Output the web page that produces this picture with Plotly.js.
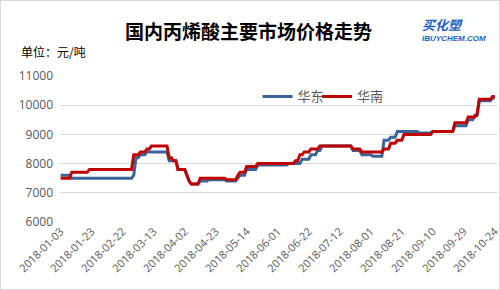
<!DOCTYPE html>
<html>
<head>
<meta charset="utf-8">
<script src="https://cdn.plot.ly/plotly-3.0.1.min.js"></script>
<style>
html,body{margin:0;padding:0;background:#fff;}
#wrap{position:relative;width:500px;height:290px;box-sizing:border-box;border:1px solid #d9d9d9;}
#chart{position:absolute;left:-1px;top:-1px;width:500px;height:290px;}
</style>
</head>
<body>
<div id="wrap"><div id="chart"></div></div>
<script>
// Tick labels (trading-day index -> date)
const tickIdx = [0,14,28,42,56,70,84,98,112,126,140,154,168,182,196];
const tickDates = ["2018-01-03","2018-01-23","2018-02-22","2018-03-13","2018-04-02","2018-04-23","2018-05-14","2018-06-01","2018-06-22","2018-07-12","2018-08-01","2018-08-21","2018-09-10","2018-09-29","2018-10-24"];

// 华东 (East China): trading-day index and price at that day
const eastIdx = [0,4,5,32,33,34,35,36,38,39,48,49,52,53,56,57,58,59,62,63,66,67,74,75,79,80,81,83,84,88,89,102,103,108,109,112,113,115,116,117,118,131,132,135,136,140,141,145,146,148,149,151,152,161,162,167,168,177,178,183,184,186,187,188,189,194,195,196];
const eastVal = [7600,7600,7500,7500,7600,8200,8200,8300,8300,8400,8400,8100,8100,7800,7800,7600,7400,7300,7300,7400,7400,7450,7450,7400,7400,7500,7600,7600,7800,7800,7950,7950,8000,8000,8150,8150,8300,8300,8450,8450,8600,8600,8450,8450,8300,8300,8250,8250,8800,8800,8900,8900,9100,9100,9050,9050,9100,9100,9300,9300,9500,9500,9650,9650,10150,10150,10250,10250];

// 华南 (South China)
const southIdx = [0,4,5,12,13,32,33,35,36,38,39,40,41,48,49,50,51,52,53,56,57,58,59,62,63,74,75,79,80,81,83,84,88,89,105,106,107,108,109,110,112,113,116,117,131,132,135,136,145,146,148,149,151,152,154,155,167,168,177,178,183,184,187,188,189,194,195,196];
const southVal = [7500,7500,7700,7700,7800,7800,8300,8300,8400,8400,8500,8500,8600,8600,8200,8200,8100,8100,7800,7800,7600,7400,7300,7300,7500,7500,7450,7450,7600,7700,7700,7900,7900,8000,8000,8100,8100,8300,8300,8400,8400,8500,8500,8600,8600,8500,8500,8400,8400,8500,8500,8700,8700,8800,8800,9000,9000,9100,9100,9400,9400,9600,9600,9700,10200,10200,10300,10300];

const yTicks = [6000,7000,8000,9000,10000,11000];
const yTickText = ["6000","7000","8000","9000","10000","11000"];

const traces = [
  {x: eastIdx, y: eastVal, name: "华东", type: "scatter", mode: "lines", legend: "legend",
   line: {color: "#3a6499", width: 3}},
  {x: southIdx, y: southVal, name: "华南", type: "scatter", mode: "lines", legend: "legend2",
   line: {color: "#c00000", width: 3}}
];

const legendFont = {family: "'Noto Sans CJK SC', sans-serif", size: 13, color: "#595959"};

const layout = {
  width: 500, height: 290,
  margin: {l: 60, r: 3, t: 76, b: 68},
  paper_bgcolor: "rgba(0,0,0,0)",
  plot_bgcolor: "#fff",
  font: {family: "'Noto Sans CJK SC', 'Noto Sans', sans-serif", color: "#595959"},
  title: {text: "<b>国内丙烯酸主要市场价格走势</b>", x: 0.497, xanchor: "center", y: 0.89, yanchor: "middle",
          font: {family: "'Noto Sans CJK SC', sans-serif", size: 19, color: "#000"}},
  showlegend: true,
  legend: {orientation: "h", x: 0.452, xanchor: "left", y: 0.86, yanchor: "middle",
           font: legendFont, bgcolor: "rgba(0,0,0,0)", itemwidth: 30},
  legend2: {orientation: "h", x: 0.588, xanchor: "left", y: 0.86, yanchor: "middle",
           font: legendFont, bgcolor: "rgba(0,0,0,0)", itemwidth: 30},
  xaxis: {range: [-0.3, 197], tickmode: "array", tickvals: tickIdx, ticktext: tickDates,
          tickangle: -45, showgrid: false, zeroline: false, showline: false, ticks: "",
          ticklabeloverflow: "allow",
          tickfont: {family: "'Open Sans', sans-serif", size: 11, color: "#595959"}},
  yaxis: {range: [6000, 11000], tickmode: "array", tickvals: yTicks, ticktext: yTickText, showgrid: true,
          gridcolor: "#d9d9d9", gridwidth: 1, zeroline: false, showline: false, ticks: "",
          ticklabelstandoff: 6,
          tickfont: {family: "'Open Sans', sans-serif", size: 12, color: "#595959"}},
  annotations: [
    {text: "单位：元/吨", xref: "paper", yref: "paper", x: -0.094, y: 1.165, xanchor: "left", yanchor: "middle",
     showarrow: false, font: {family: "'Noto Sans CJK SC', sans-serif", size: 12, color: "#000"}},
    {text: "<b><i>买化塑</i></b>", xref: "paper", yref: "paper", x: 0.825, y: 1.35, xanchor: "left", yanchor: "middle",
     showarrow: false, borderpad: 0, font: {family: "'Noto Sans CJK SC', sans-serif", size: 13, color: "#1e5fbf"}},
    {text: "<b><i>IBUYCHEM.COM</i></b>", xref: "paper", yref: "paper", x: 0.825, y: 1.258, xanchor: "left", yanchor: "middle",
     showarrow: false, borderpad: 0, font: {family: "'Liberation Sans', sans-serif", size: 8, color: "#1e5fbf"}}
  ]
};

Plotly.newPlot("chart", traces, layout, {displayModeBar: false, staticPlot: true});
</script>
</body>
</html>
